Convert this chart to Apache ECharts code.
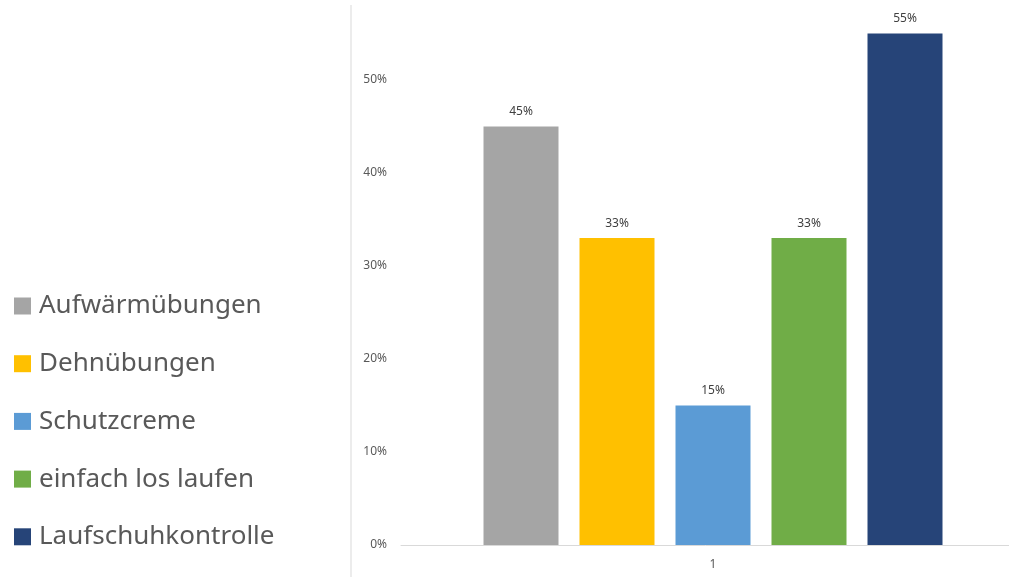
<!DOCTYPE html>
<html>
<head>
<meta charset="utf-8">
<script src="https://cdn.jsdelivr.net/npm/echarts@6/dist/echarts.min.js"></script>
<style>
  html, body { margin: 0; padding: 0; background: #fff; }
  #chart { width: 1009px; height: 577px; }
</style>
</head>
<body>
<div id="chart"></div>
<script>
// Daten
var categories = ['1'];
var seriesNames = ['Aufwärmübungen', 'Dehnübungen', 'Schutzcreme', 'einfach los laufen', 'Laufschuhkontrolle'];
var seriesValues = [0.45, 0.33, 0.15, 0.33, 0.55];
var colors = ['#A5A5A5', '#FFC000', '#5B9BD5', '#70AD47', '#264478'];
var yTicks = [0, 0.1, 0.2, 0.3, 0.4, 0.5, 0.6];

var fontName = 'Noto Sans';

function pct(v) {
    return Math.round(v * 100) + '%';
}

var chart = echarts.init(document.getElementById('chart'));

var series = seriesNames.map(function(name, i) {
    return {
        name: name,
        type: 'bar',
        data: [seriesValues[i]],
        barWidth: 75,
        barGap: '28%',
        itemStyle: { color: colors[i] },
        label: {
            show: true,
            position: 'top',
            distance: 9,
            formatter: function(p) { return pct(p.value); },
            color: '#404040',
            fontSize: 12,
            fontFamily: fontName
        }
    };
});

var option = {
    animation: false,
    color: colors,
    textStyle: { fontFamily: fontName },
    legend: {
        orient: 'vertical',
        left: 14,
        top: 293,
        padding: 0,
        icon: 'rect',
        itemWidth: 17,
        itemHeight: 17,
        itemGap: 31.7,
        data: seriesNames,
        textStyle: {
            fontSize: 26,
            color: '#595959',
            fontFamily: fontName,
            padding: [0, 0, 0, 3]
        }
    },
    grid: {
        left: 401,
        top: -13,
        width: 624,
        height: 558,
        outerBoundsMode: 'none'
    },
    xAxis: {
        type: 'category',
        data: categories,
        axisLine: { lineStyle: { color: '#d9d9d9', width: 1 } },
        axisTick: { show: false },
        axisLabel: { color: '#595959', fontSize: 12, margin: 14 }
    },
    yAxis: {
        type: 'value',
        min: yTicks[0],
        max: yTicks[yTicks.length - 1],
        interval: 0.1,
        splitLine: { show: false },
        axisLine: { show: false },
        axisTick: { show: false },
        axisLabel: {
            color: '#595959',
            fontSize: 12,
            margin: 14,
            showMaxLabel: false,
            formatter: function(v) { return pct(v); }
        }
    },
    graphic: [{
        type: 'line',
        shape: { x1: 351, y1: 5, x2: 351, y2: 577 },
        style: { stroke: '#d9d9d9', lineWidth: 1 }
    }],
    series: series
};

chart.setOption(option);
</script>
</body>
</html>
